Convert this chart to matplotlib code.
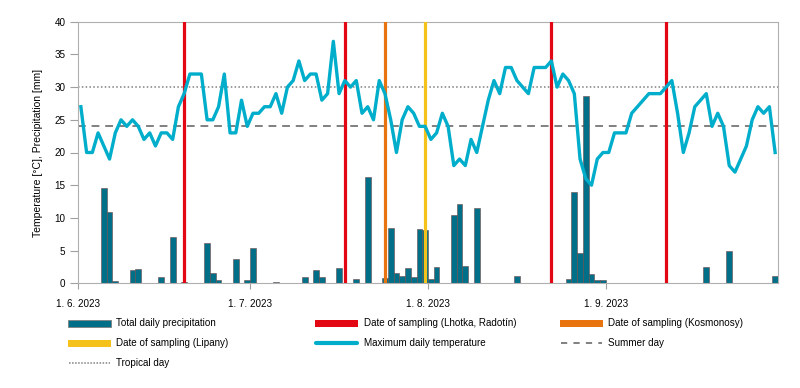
import matplotlib
matplotlib.use("Agg")
import matplotlib.pyplot as plt
from matplotlib import font_manager
from matplotlib.patches import Rectangle
from matplotlib.lines import Line2D
import numpy as np

available = {f.name for f in font_manager.fontManager.ttflist}
family = 'Liberation Sans Narrow' if 'Liberation Sans Narrow' in available else (
    'Liberation Sans' if 'Liberation Sans' in available else 'DejaVu Sans')
plt.rcParams['font.family'] = [family, 'DejaVu Sans']

# Daily maximum temperature, 1 June - 30 September 2023
temp_max = [
    27, 20, 20, 23, 21, 19, 23, 25, 24, 25, 24, 22, 23, 21, 23, 23, 22, 27, 29, 32,
    32, 32, 25, 25, 27, 32, 23, 23, 28, 24, 26, 26, 27, 27, 29, 26, 30, 31, 34, 31,
    32, 32, 28, 29, 37, 29, 31, 30, 31, 26, 27, 25, 31, 29, 25, 20, 25, 27, 26, 24,
    24, 22, 23, 26, 24, 18, 19, 18, 22, 20, 24, 28, 31, 29, 33, 33, 31, 30, 29, 33,
    33, 33, 34, 30, 32, 31, 29, 19, 16, 15, 19, 20, 20, 23, 23, 23, 26, 27, 28, 29,
    29, 29, 30, 31, 26, 20, 23, 27, 28, 29, 24, 26, 24, 18, 17, 19, 21, 25, 27, 26,
    27, 20,
]

# Total daily precipitation [mm] (day index from 1 June -> value)
precip_days = [4, 5, 6, 9, 10, 13, 14, 16, 18, 21, 22, 23, 24, 27, 29, 30, 31, 34,
               39, 41, 42, 44, 45, 48, 49, 50, 53, 54, 55, 56, 57, 58, 59, 60, 61,
               62, 64, 65, 66, 67, 69, 76, 77, 85, 86, 87, 88, 89, 90, 91, 92,
               109, 113, 121]
precip_mm = [14.6, 10.85, 0.4, 2.1, 2.2, 0.05, 1.0, 7.1, 0.25, 0.1, 6.1, 1.5, 0.55,
             3.7, 0.55, 5.35, 0.05, 0.15, 1.0, 2.1, 1.0, 0.1, 2.3, 0.6, 0.05, 16.2,
             0.75, 8.4, 1.5, 1.1, 2.3, 0.9, 8.3, 8.1, 0.65, 2.5, 0.05, 10.4, 12.2,
             2.7, 11.5, 1.1, 0.05, 0.7, 14.0, 4.7, 28.6, 1.4, 0.5, 0.5, 0.1,
             2.5, 4.9, 1.1]
precip = np.zeros(len(temp_max))
precip[precip_days] = precip_mm

# Sampling days (day index from 1 June)
sampling_lhotka_radotin = [18, 46, 82, 102]
sampling_kosmonosy = [53]
sampling_lipany = [60]

summer_day = 24
tropical_day = 30

tick_days = [0, 30, 61, 92]
tick_labels = ["1. 6. 2023", "1. 7. 2023", "1. 8. 2023", "1. 9. 2023"]

C_BAR = '#006f87'
C_RED = '#e30613'
C_ORANGE = '#e8740f'
C_YELLOW = '#f4c21b'
C_TEMP = '#00aecb'
C_GRAY = '#808080'

W, H = 800, 388
fig = plt.figure(figsize=(W / 100, H / 100), dpi=100)

# fit font size to the reference text width
renderer = fig.canvas.get_renderer()
probe = fig.text(0, 0, "Total daily precipitation", fontsize=10)
pw = probe.get_window_extent(renderer).width
probe.remove()
fs = max(6.0, min(8.5, 10 * 100.0 / pw))

ax = fig.add_axes([78 / W, 1 - 283.3 / H, 700 / W, 261.6 / H])

x = np.arange(len(temp_max)) + 0.5

ax.bar(x, precip, width=1.0, color=C_BAR, edgecolor='#6b4a4a', linewidth=0.4, zorder=2)
for d in sampling_lhotka_radotin:
    ax.axvline(d + 0.5, color=C_RED, lw=2.3, zorder=3)
for d in sampling_kosmonosy:
    ax.axvline(d + 0.5, color=C_ORANGE, lw=2.3, zorder=3)
for d in sampling_lipany:
    ax.axvline(d + 0.5, color=C_YELLOW, lw=2.3, zorder=3)
ax.axhline(summer_day, color=C_GRAY, lw=1.4, ls=(0, (4, 3)), zorder=1)
ax.axhline(tropical_day, color=C_GRAY, lw=1.1, ls=(0, (1, 1.5)), zorder=1)
ax.plot(x, temp_max, color=C_TEMP, lw=2.4, zorder=4)

ax.set_xlim(0, 122)
ax.set_ylim(0, 40)
ax.set_yticks(range(0, 41, 5))
ax.set_xticks(tick_days)
ax.set_xticklabels(tick_labels)
ax.tick_params(axis='both', labelsize=fs, color='#a0a0a0', length=4, direction='out', pad=3)
ax.tick_params(axis='y', length=6, pad=3)
ax.tick_params(axis='x', pad=7)
for s in ax.spines.values():
    s.set_color('#b0b0b0')
    s.set_linewidth(0.8)
ax.set_ylabel("Temperature [°C], Precipitation [mm]", fontsize=fs * 1.05, labelpad=8)

# legend (three columns, three rows)
def fx(px):
    return px / W

def fy(py):
    return 1 - py / H

legend_items = [
    # (column x px, row y px, kind, style, label)
    (68, 323, 'patch', dict(fc=C_BAR, ec='#808080', lw=0.6), "Total daily precipitation"),
    (315, 323, 'patch', dict(fc=C_RED, ec=C_RED, lw=0), "Date of sampling (Lhotka, Radotín)"),
    (560, 323, 'patch', dict(fc=C_ORANGE, ec=C_ORANGE, lw=0), "Date of sampling (Kosmonosy)"),
    (68, 343, 'patch', dict(fc=C_YELLOW, ec=C_YELLOW, lw=0), "Date of sampling (Lipany)"),
    (315, 343, 'line', dict(color=C_TEMP, lw=3, solid_capstyle='round'), "Maximum daily temperature"),
    (560, 343, 'line', dict(color=C_GRAY, lw=1.4, ls=(0, (3.2, 3.2))), "Summer day"),
    (68, 363, 'line', dict(color=C_GRAY, lw=1.1, ls=(0, (1, 1.0))), "Tropical day"),
]
for px, py, kind, style, label in legend_items:
    if kind == 'patch':
        fig.patches.append(Rectangle((fx(px), fy(py + 3.5)), 43 / W, 7 / H,
                                     transform=fig.transFigure, **style))
    else:
        fig.lines.append(Line2D([fx(px + 1), fx(px + 42)], [fy(py), fy(py)],
                                transform=fig.transFigure, **style))
    fig.text(fx(px + 48.5), fy(py), label, fontsize=fs, va='center', ha='left')

fig.savefig("out.png", dpi=100)
